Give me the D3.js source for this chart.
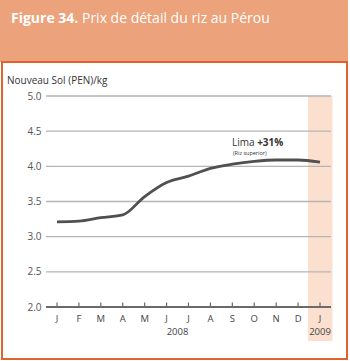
<!DOCTYPE html>
<html><head><meta charset="utf-8">
<script src="https://cdn.jsdelivr.net/npm/d3@7"></script>
<style>body{margin:0;background:#fff}svg{display:block}</style>
</head><body>
<script>
const months = ["J","F","M","A","M","J","J","A","S","O","N","D","J"];
const prices = [3.21,3.22,3.27,3.31,3.57,3.77,3.86,3.97,4.03,4.07,4.09,4.09,4.06];
const yTicks = [2.0,2.5,3.0,3.5,4.0,4.5,5.0];
const years = [{label:"2008", from:5, to:6},{label:"2009", from:12, to:12}];

const W=350,H=361;
const svg=d3.select("body").append("svg").attr("width",W).attr("height",H);
const font="'Open Sans', 'Noto Sans', sans-serif";

// header
svg.append("rect").attr("x",0).attr("y",0).attr("width",348).attr("height",62).attr("fill","#eca27a");
const title=svg.append("text").attr("x",11).attr("y",23).attr("font-family",font).attr("font-size",14).attr("fill","#fff");
title.append("tspan").attr("font-weight","bold").text("Figure 34.");
title.append("tspan").text(" Prix de détail du riz au Pérou");
// frame
svg.append("rect").attr("x",2).attr("y",62).attr("width",345).attr("height",297).attr("fill","#fff").attr("stroke","#e0622d").attr("stroke-width",2);

const x=d3.scalePoint().domain(d3.range(months.length)).range([57,320]);
const y=d3.scaleLinear().domain([2,5]).range([307,96]);
const step=x.step();

// shaded 2009 band
svg.append("rect").attr("x",x(12)-12).attr("y",y(5)).attr("width",24.5).attr("height",341-y(5)).attr("fill","#fbe0d0");

// gridlines
svg.append("g").selectAll("line").data(yTicks.filter(d=>d>2)).join("line")
  .attr("x1",46).attr("x2",331).attr("y1",d=>y(d)).attr("y2",d=>y(d))
  .attr("stroke","#b5b5b5").attr("stroke-width",1.3);
// y labels
svg.append("g").selectAll("text").data(yTicks).join("text")
  .attr("x",41.5).attr("y",d=>y(d)+3.5).attr("text-anchor","end")
  .attr("font-family",font).attr("font-size",10).attr("fill","#555").text(d=>d.toFixed(1));
svg.append("text").attr("x",7).attr("y",84).attr("font-family",font).attr("font-size",10).attr("fill","#333").text("Nouveau Sol (PEN)/kg");

// x axis
const xa=svg.append("g");
xa.append("line").attr("x1",46).attr("x2",331).attr("y1",y(2)).attr("y2",y(2)).attr("stroke","#6a6a6a").attr("stroke-width",1.8);
xa.selectAll("line.t").data(d3.range(months.length)).join("line").attr("class","t")
  .attr("x1",d=>x(d)).attr("x2",d=>x(d)).attr("y1",y(2)-4.5).attr("y2",y(2)).attr("stroke","#6a6a6a").attr("stroke-width",1.2);
xa.selectAll("text.m").data(months).join("text").attr("class","m")
  .attr("x",(d,i)=>x(i)).attr("y",322).attr("text-anchor","middle")
  .attr("font-family",font).attr("font-size",9.5).attr("fill","#444").text(d=>d);
xa.selectAll("text.yr").data(years).join("text").attr("class","yr")
  .attr("x",d=>(x(d.from)+x(d.to))/2).attr("y",334.5).attr("text-anchor","middle")
  .attr("font-family",font).attr("font-size",9.5).attr("fill","#444").text(d=>d.label);

// line
const line=d3.line().x((d,i)=>x(i)).y(d=>y(d)).curve(d3.curveMonotoneX);
svg.append("path").datum(prices).attr("d",line).attr("fill","none").attr("stroke","#505050").attr("stroke-width",2.8);

// annotation
const ann=svg.append("text").attr("x",232).attr("y",146).attr("font-family",font).attr("font-size",10).attr("fill","#333");
ann.append("tspan").text("Lima ");
ann.append("tspan").attr("font-weight","bold").text("+31%");
svg.append("text").attr("x",233).attr("y",155).attr("font-family",font).attr("font-size",5.5).attr("fill","#333").text("(Riz superior)");
</script>
</body></html>
